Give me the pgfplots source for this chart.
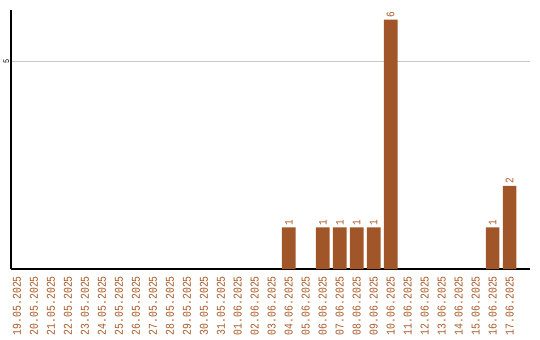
\documentclass[border=0pt]{standalone}
\usepackage{pgfplots}
\pgfplotsset{compat=1.18}
\usepackage{fontspec}
\setmonofont{Liberation Mono}
\newfontfamily\narrowmono[FakeStretch=0.82]{Liberation Mono}
\definecolor{barcol}{RGB}{160,86,40}
\definecolor{labcol}{RGB}{168,90,40}
\definecolor{gridcol}{RGB}{200,200,200}
\begin{document}
\begin{tikzpicture}
\begin{axis}[
  name=ax,
  at={(0,0)}, anchor=south west,
  scale only axis,
  width=519bp, height=259bp,
  xmin=-0.35, xmax=30.2,
  ymin=0, ymax=6.23,
  /pgf/number format/assume math mode=true,
  axis x line*=bottom, axis y line*=left,
  axis line style={line width=1.3bp, black, -},
  xtick={0,...,29},
  xticklabels={19.05.2025,20.05.2025,21.05.2025,22.05.2025,23.05.2025,24.05.2025,25.05.2025,26.05.2025,27.05.2025,28.05.2025,29.05.2025,30.05.2025,31.05.2025,01.06.2025,02.06.2025,03.06.2025,04.06.2025,05.06.2025,06.06.2025,07.06.2025,08.06.2025,09.06.2025,10.06.2025,11.06.2025,12.06.2025,13.06.2025,14.06.2025,15.06.2025,16.06.2025,17.06.2025},
  xticklabel style={yshift=-7bp, rotate=90, anchor=east, inner sep=0pt,
    font=\narrowmono\fontsize{12}{12}\selectfont, text=labcol},
  ytick={5},
  yticklabel style={rotate=90, anchor=south, inner sep=1.5bp,
    font=\narrowmono\fontsize{8.5}{8.5}\selectfont},
  major tick length=0pt,
  ymajorgrids,
  grid style={gridcol, line width=0.8bp},
  clip=false,
]
\addplot[ybar, bar width=13.6bp, fill=barcol, draw=none,
  nodes near coords,
  nodes near coords style={rotate=90, anchor=west, inner sep=2bp,
    font=\narrowmono\fontsize{11.5}{11.5}\selectfont, text=labcol},
] coordinates {
  (16,1) (18,1) (19,1) (20,1) (21,1) (22,6) (28,1) (29,2)
};
\end{axis}
\pgfresetboundingbox
\path ([shift={(-11bp,-71bp)}]ax.south west) rectangle ([shift={(10bp,10bp)}]ax.north east);
\end{tikzpicture}
\end{document}
